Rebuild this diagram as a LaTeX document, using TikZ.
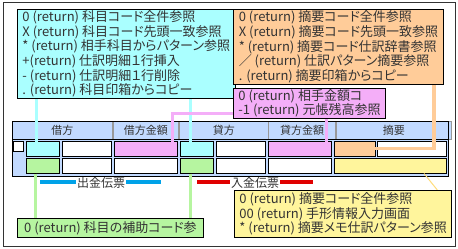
\documentclass[tikz,border=0pt]{standalone}
\usepackage{fontspec}
\setmainfont{Noto Sans CJK JP}[RawFeature=+palt]
\usepackage{xcolor}
\usepackage{tikz}
\usetikzlibrary{
  positioning,
  calc
}
\definecolor{MemoCyan}{RGB}{170,255,255}
\definecolor{MemoPink}{RGB}{244,174,248}
\definecolor{MemoOrange}{RGB}{255,204,153}
\definecolor{MemoGreen}{RGB}{182,245,160}
\definecolor{MemoYellow}{RGB}{255,245,156}
\definecolor{HeadBlue}{RGB}{194,218,255}
\definecolor{SlipBlue}{RGB}{0,162,232}
\definecolor{SlipRed}{RGB}{224,0,0}
\definecolor{InkGray}{RGB}{51,51,51}
\pgfdeclarelayer{memolayer}
\pgfsetlayers{main,memolayer}
\tikzset{
  %%── 説明ボックス ─────────────────────────────────────
  memo/.style = {
    rectangle, draw = black, line width = 0.9pt, fill = #1,
    anchor = north west, align = left,
    inner xsep = 5pt, inner ysep = 1pt,
    text = InkGray, font = \fontsize{13}{14.7}\selectfont
  },
  %%── 伝票の欄 ─────────────────────────────────────────
  hcell/.style = {
    rectangle, draw = black!40, line width = 0.8pt, fill = HeadBlue,
    anchor = north west, minimum height = 18pt, inner sep = 0pt,
    text = InkGray, font = \fontsize{11}{12}\selectfont
  },
  cell/.style = {
    rectangle, draw = black, line width = 1pt, fill = #1,
    anchor = north west, minimum height = 15pt,
    inner sep = 0pt, outer sep = 0pt
  },
  cell/.default = white,
  slip/.style = {
    inner sep = 1pt, text = InkGray, font = \fontsize{12}{13}\selectfont
  },
  %%── 接続線 ───────────────────────────────────────────
  cyanln/.style   = {line width = 3pt,   color = MemoCyan},
  pinkln/.style   = {line width = 3pt,   color = MemoPink},
  orangeln/.style = {line width = 3.5pt, color = MemoOrange},
  greenln/.style  = {line width = 3pt,   color = MemoGreen},
  yellowln/.style = {line width = 1pt,   color = MemoYellow!80!orange},
  bluebar/.style  = {line width = 4pt,   color = SlipBlue},
  redbar/.style   = {line width = 4pt,   color = SlipRed},
}

\begin{document}
\begin{tikzpicture}[x = 1pt, y = -1pt]

  \useasboundingbox (0,0) rectangle (458,249);
  \draw[black!80, line width = 0.8pt] (3,2) rectangle (455,246);

  %% ── 伝票の表 ─────────────────────────────────────────
  \fill[HeadBlue] (12,139) rectangle (448,176);
  \node[hcell, minimum width = 100pt]  (hd1) at (12,121)     {借方};
  \node[hcell, minimum width = 65.5pt, right = 0pt of hd1] (hd2) {借方金額};
  \node[hcell, minimum width = 88.5pt, right = 0pt of hd2] (hd3) {貸方};
  \node[hcell, minimum width = 66.5pt, right = 0pt of hd3] (hd4) {貸方金額};
  \node[hcell, minimum width = 115.5pt, right = 0pt of hd4] (hd5) {摘要};
  \draw[black, line width = 1pt] (12,139) -- (448,139);
  \draw[black, line width = 1pt] (12,121) rectangle (448,176);

  \node[cell, minimum width = 10pt, minimum height = 10pt] (chk) at (13,141) {};

  %% 1 行目
  \node[cell = MemoCyan, minimum width = 33pt] (dk1) at (26,141) {};
  \node[cell, minimum width = 49pt, right = 3pt of dk1] (dw1) {};
  \node[cell = MemoPink, minimum width = 63pt, right = 3pt of dw1] (dm1) {};
  \node[cell = MemoCyan, minimum width = 33pt, right = 3pt of dm1] (ck1) {};
  \node[cell, minimum width = 49pt, right = 3pt of ck1] (cw1) {};
  \node[cell = MemoPink, minimum width = 63pt, right = 3pt of cw1] (cm1) {};
  \node[cell = MemoOrange, minimum width = 41pt, right = 3pt of cm1] (tk1) {};
  \node[cell, minimum width = 69pt, right = 2pt of tk1] (tw1) {};

  %% 2 行目
  \node[cell = MemoGreen, minimum width = 33pt] (dk2) at (26,158.5) {};
  \node[cell, minimum width = 49pt, right = 3pt of dk2] (dw2) {};
  \node[cell, minimum width = 63pt, right = 3pt of dw2] (dm2) {};
  \node[cell = MemoGreen, minimum width = 33pt, right = 3pt of dm2] (ck2) {};
  \node[cell, minimum width = 49pt, right = 3pt of ck2] (cw2) {};
  \node[cell, minimum width = 63pt, right = 3pt of cw2] (cm2) {};
  \node[cell = MemoYellow, minimum width = 112pt, right = 3pt of cm2] (tm2) {};

  %% ── 出金伝票 / 入金伝票 ───────────────────────────────
  \node[slip] (outslip) at (101,183) {出金伝票};
  \node[slip] (inslip)  at (255,183) {入金伝票};
  \draw[bluebar] ([yshift = 1pt]outslip.west) -- ++(-36,0);
  \draw[bluebar] ([yshift = 1pt]outslip.east) -- ++(35,0);
  \draw[redbar]  ([yshift = 1pt]inslip.west)  -- ++(-33,0);
  \draw[redbar]  ([yshift = 1pt]inslip.east)  -- ++(33,0);

  %% ── 説明ボックス（接続線の上に重ねる） ─────────────────
  \begin{pgfonlayer}{memolayer}
  \node[memo = MemoCyan, minimum width = 206pt, minimum height = 89pt]
    (kamoku) at (17,9)
    {0 (return) 科目コード全件参照\\
     X (return) 科目コード先頭一致参照\\
     * (return) 相手科目からパターン参照\\
     +(return) 仕訳明細１行挿入\\
     - (return) 仕訳明細１行削除\\
     . (return) 科目印箱からコピー};
  \node[memo = MemoOrange, minimum width = 210pt, minimum height = 75pt]
    (tekiyo) at (233,9)
    {0 (return) 摘要コード全件参照\\
     X (return) 摘要コード先頭一致参照\\
     * (return) 摘要コード仕訳辞書参照\\
     ／ (return) 仕訳パターン摘要参照\\
     . (return) 摘要印箱からコピー};
  \node[memo = MemoPink, minimum width = 151pt, minimum height = 29pt,
        font = \fontsize{13}{13.3}\selectfont]
    (kingaku) at (233,88)
    {0 (return) 相手金額コ\\
     -1 (return) 元帳残高参照};
  \node[memo = MemoGreen, minimum width = 186pt, minimum height = 19pt]
    (hojo) at (17,218)
    {0 (return) 科目の補助コード参};
  \node[memo = MemoYellow, minimum width = 209pt, minimum height = 47pt,
        font = \fontsize{13}{14.5}\selectfont]
    (tmemo) at (234,190)
    {0 (return) 摘要コード全件参照\\
     00 (return) 手形情報入力画面\\
     * (return) 摘要メモ仕訳パターン参照};
  \end{pgfonlayer}

  %% ── 接続線 ───────────────────────────────────────────
  \coordinate (kp1) at ($(dk1.north west)+(10,2)$);
  \coordinate (kp2) at ($(ck1.north west)+(10,2)$);
  \coordinate (hp1) at ($(dk2.south west)+(9,0)$);
  \coordinate (hp2) at ($(ck2.south west)+(10,0)$);
  \coordinate (mp1) at ($(dm1.north east)+(-5,2)$);
  \coordinate (mp2) at ($(cm1.north east)+(-5,2)$);
  \coordinate (tp1) at ($(tekiyo.south east)+(-10,0)$);

  \draw[cyanln]   (kamoku.south -| kp1) -- (kp1);
  \draw[cyanln]   (kamoku.south -| kp2) -- (kp2);
  \draw[pinkln]   ($(kingaku.south west)+(0,-5)$) -| (mp1);
  \draw[pinkln]   (kingaku.south -| mp2) -- (mp2);
  \draw[orangeln] (tp1) |- (tk1.east);
  \draw[greenln]  (hp1) -- (hojo.north -| hp1);
  \draw[greenln]  (hp2) -- (hojo.north -| hp2);
  \draw[yellowln] ($(tm2.south east)+(-22,0)$) -- ($(tmemo.north east)+(-15,0)$);

\end{tikzpicture}
\end{document}
